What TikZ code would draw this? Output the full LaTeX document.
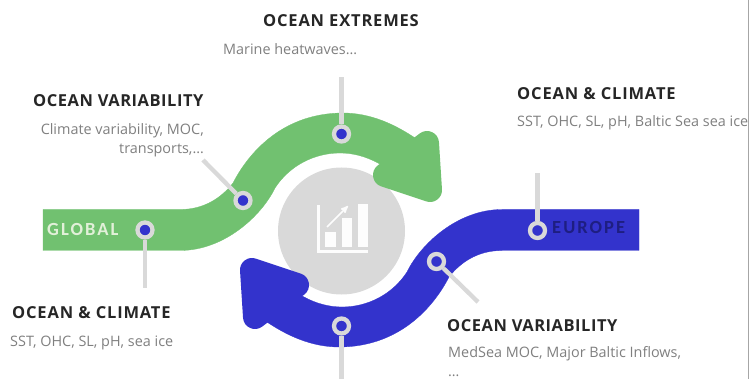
\documentclass[tikz,border=0pt]{standalone}
\usepackage{xcolor}
\usepackage{fontspec}
\usetikzlibrary{arrows}
\setmainfont{Open Sans}
\newfontfamily\headfont[LetterSpace=5]{Open Sans}
\newfontfamily\varfont[LetterSpace=3.2]{Open Sans}
\newfontfamily\tagfont[LetterSpace=11]{Carlito}
\definecolor{bandgreen}{RGB}{113,193,112}
\definecolor{bandblue}{RGB}{51,51,204}
\definecolor{ringgray}{RGB}{217,217,217}
\definecolor{headgray}{RGB}{38,38,38}
\definecolor{bodygray}{RGB}{127,127,127}
\definecolor{taglight}{RGB}{226,240,217}
\definecolor{tagdark}{RGB}{30,30,130}
\colorlet{iconwhite}{white!95!ringgray}
\tikzset{
	band/.style={fill=#1, draw=#1, line width=0.3pt},
	bandhead/.style={fill=#1, draw=#1, line width=24pt, line join=round},
	leader/.style={draw=ringgray, line width=4.3pt},
	ringmark/.style={circle, draw=ringgray, fill=bandblue, line width=4.3pt, minimum size=15pt, inner sep=0pt},
	headtext/.style={font=\headfont\fontsize{16.5}{20}\bfseries\selectfont, text=headgray, inner sep=0pt},
	vartext/.style={font=\varfont\fontsize{16.5}{20}\bfseries\selectfont, text=headgray, inner sep=0pt},
	bodytext/.style={font=\fontsize{14.4}{19}\selectfont, text=bodygray, inner sep=0pt},
	tagtext/.style={font=\tagfont\fontsize{18.5}{20}\bfseries\selectfont, inner sep=0pt, anchor=base west},
	bar/.style={fill=iconwhite},
}
% one band with its arrow head, the other one is the same turned round
\newcommand{\bandarrow}[1]{
	\path[band=#1] (43,209.5) -- (180,209.5)
		.. controls (205,209.5) and (222,197) .. (233,183)
		.. controls (250,150) and (285,113) .. (343,113)
		.. controls (370,113) and (395,124) .. (418,140)
		-- (400,175) -- (378,163)
		.. controls (365,156) and (352,153) .. (340,153)
		.. controls (315,153) and (290,165) .. (275,188)
		.. controls (262,215) and (225,250.5) .. (180,250.5)
		-- (43,250.5) -- cycle;
	\path[bandhead=#1] (427,143) -- (430,190) -- (385,175) -- cycle;
}
\begin{document}
\begin{tikzpicture}[x=1pt, y=-1pt]
	\useasboundingbox (0,0) rectangle (749,379);

	% centre disc with the chart icon
	\fill[ringgray] (341.5,231) circle (63.5);
	\draw[iconwhite, line width=3pt] (318.5,205) -- (318.5,252) -- (368,252);
	\fill[bar] (325,232) rectangle (336,247);
	\fill[bar] (342,218) rectangle (352,247);
	\fill[bar] (358,204) rectangle (368,247);
	\draw[iconwhite, line width=1.5pt, ->, >=stealth'] (327,227) -- (348,206);

	% the two bands
	\bandarrow{bandgreen}
	\begin{scope}[rotate around={180:(341,230)}]
		\bandarrow{bandblue}
	\end{scope}

	% marks on the bands
	\node[ringmark] (markGlobal) at (145,230) {};
	\node[ringmark] (markVarGlobal) at (243,200.5) {};
	\node[ringmark] (markExtremes) at (341.5,134) {};
	\node[ringmark] (markEurope) at (537.5,230.5) {};
	\node[ringmark] (markVarEurope) at (436.5,261.5) {};
	\node[ringmark] (markBottom) at (341.5,326) {};

	\coordinate (endGlobal) at (145,288);
	\coordinate (endVarGlobal) at (203,160);
	\coordinate (endExtremes) at (341.5,77);
	\coordinate (endEurope) at (537.5,173);
	\coordinate (endVarEurope) at (478,302);
	\coordinate (endBottom) at (341.5,379);

	\draw[leader] (markGlobal) -- (endGlobal);
	\draw[leader] (markVarGlobal) -- (endVarGlobal);
	\draw[leader] (markExtremes) -- (endExtremes);
	\draw[leader] (markEurope) -- (endEurope);
	\draw[leader] (markVarEurope) -- (endVarEurope);
	\draw[leader] (markBottom) -- (endBottom);

	% texts
	\node[headtext, anchor=base] (headExtremes) at (341,27) {OCEAN EXTREMES};
	\node[bodytext, anchor=base west] (bodyExtremes) at (223,55) {Marine heatwaves…};
	\node[vartext, anchor=base west] (headVarGlobal) at (33,107) {OCEAN VARIABILITY};
	\node[bodytext, anchor=base east] (bodyVarGlobalA) at (204,135) {Climate variability, MOC,};
	\node[bodytext, anchor=base east] (bodyVarGlobalB) at (204,154) {transports,…};
	\node[headtext, anchor=base west] (headClimEurope) at (517,100) {OCEAN \& CLIMATE};
	\node[bodytext, anchor=base west] (bodyClimEurope) at (517,127) {SST, OHC, SL, pH, Baltic Sea sea ice};
	\node[headtext, anchor=base west] (headClimGlobal) at (12,318) {OCEAN \& CLIMATE};
	\node[bodytext, anchor=base west] (bodyClimGlobal) at (10,346) {SST, OHC, SL, pH, sea ice};
	\node[vartext, anchor=base west] (headVarEurope) at (447,331) {OCEAN VARIABILITY};
	\node[bodytext, anchor=base west] (bodyVarEuropeA) at (448,357) {MedSea MOC, Major Baltic Inflows,};
	\node[bodytext, anchor=base west] (bodyVarEuropeB) at (448,376.5) {…};
	\node[tagtext, text=taglight] (tagGlobal) at (47,235.5) {GLOBAL};
	\node[tagtext, text=tagdark] (tagEurope) at (552,233.5) {EUROPE};

	% edge of the slide
	\fill[black!35] (747.5,0) rectangle (749,379);
\end{tikzpicture}
\end{document}
